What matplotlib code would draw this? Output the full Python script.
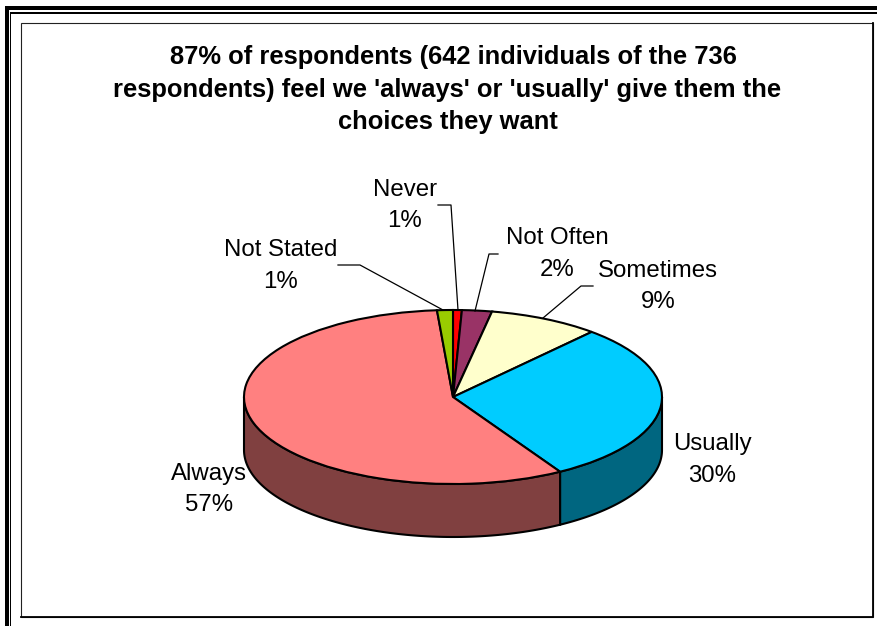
import matplotlib
matplotlib.use("Agg")
import matplotlib.pyplot as plt
from matplotlib.patches import Rectangle, Polygon
import numpy as np

plt.rcParams['font.family'] = ['Liberation Sans', 'DejaVu Sans']

# clockwise from 12 o'clock, counts (sum 736)
categories = ["Never", "Not Often", "Sometimes", "Usually", "Always", "Not Stated"]
counts = [5, 17, 63, 220, 422, 9]
percent_labels = ["1%", "2%", "9%", "30%", "57%", "1%"]
top_colors = ["#FF0000", "#993366", "#FFFFCC", "#00CCFF", "#FF8080", "#99CC00"]
side_colors = ["#800000", "#4D1A33", "#808066", "#006680", "#804040", "#4D6600"]
title_lines = ["87% of respondents (642 individuals of the 736",
               "respondents) feel we 'always' or 'usually' give them the",
               "choices they want"]

W, H = 878, 626
CX, CY, RX, RY, DEPTH = 453, 397, 209, 87, 53

fig = plt.figure(figsize=(W / 100, H / 100), dpi=100)

# overlay in pixel coordinates, y pointing down
bg = fig.add_axes([0, 0, 1, 1])
bg.set_xlim(0, W)
bg.set_ylim(H, 0)
bg.axis("off")

# frame
for x, y, w, h in [(5, 6, W, 4), (5, 6, 4, H), (10, 12, W, 1.5), (10, 12, 1.5, H)]:
    bg.add_patch(Rectangle((x, y), w, h, fc="black", ec="none"))
bg.add_patch(Rectangle((21, 23), 852, 594, fc="white", ec="#222222", lw=0.8))
bg.plot([21, 873, 873], [617, 617, 23], color="black", lw=1.3)

# first title line sits a little right of the other two
for line, tx, ty in zip(title_lines, [453.5, 447.5, 448], [57, 90, 122]):
    bg.text(tx, ty, line, ha="center", va="center", fontsize=18.4, fontweight="bold")

# pie axes span exactly the ellipse of the top face
pie_ax = fig.add_axes([(CX - RX) / W, 1 - (CY + RY) / H, 2 * RX / W, 2 * RY / H])
pie_ax.patch.set_alpha(0)

fractions = np.array(counts) / sum(counts)
edges = np.concatenate([[0], np.cumsum(fractions)]) * 2 * np.pi
depth = DEPTH / RY

# side wall for the slices that reach the front half
for i in range(len(counts)):
    a0, a1 = max(edges[i], np.pi / 2), min(edges[i + 1], 3 * np.pi / 2)
    if a1 <= a0:
        continue
    t = np.linspace(a0, a1, 120)
    x, y = np.sin(t), np.cos(t)
    pts = np.vstack([np.column_stack([x, y]),
                     np.column_stack([x[::-1], y[::-1] - depth])])
    pie_ax.add_patch(Polygon(pts, fc=side_colors[i], ec="black", lw=1.5, clip_on=False))

wedges, _ = pie_ax.pie(counts, colors=top_colors, startangle=90, counterclock=False,
                       radius=1, wedgeprops=dict(ec="black", lw=1.5, clip_on=False))
pie_ax.set_aspect("auto")
pie_ax.set_xlim(-1, 1)
pie_ax.set_ylim(-1, 1)

# labels and leader lines
label_pos = {"Never": (405, 205.5), "Not Often": (557, 254), "Sometimes": (658, 286.5),
             "Usually": (712, 460), "Always": (209, 489.5), "Not Stated": (281, 266)}
leaders = {"Never": [(438, 205), (451, 205), (458, 310)],
           "Not Often": [(498, 254), (489, 254), (475, 311)],
           "Sometimes": [(593, 286), (581, 286), (543, 318)],
           "Not Stated": [(338, 265), (360, 265), (443, 310)]}

label_ax = fig.add_axes([0, 0, 1, 1])
label_ax.set_xlim(0, W)
label_ax.set_ylim(H, 0)
label_ax.axis("off")
for name, pct in zip(categories, percent_labels):
    px, py = label_pos[name]
    label_ax.text(px, py, name + "\n" + pct, ha="center", va="center", fontsize=17.3,
                  linespacing=1.53)
    if name in leaders:
        xs, ys = zip(*leaders[name])
        label_ax.plot(xs, ys, color="black", lw=0.9)

fig.savefig("out.png", dpi=100)
